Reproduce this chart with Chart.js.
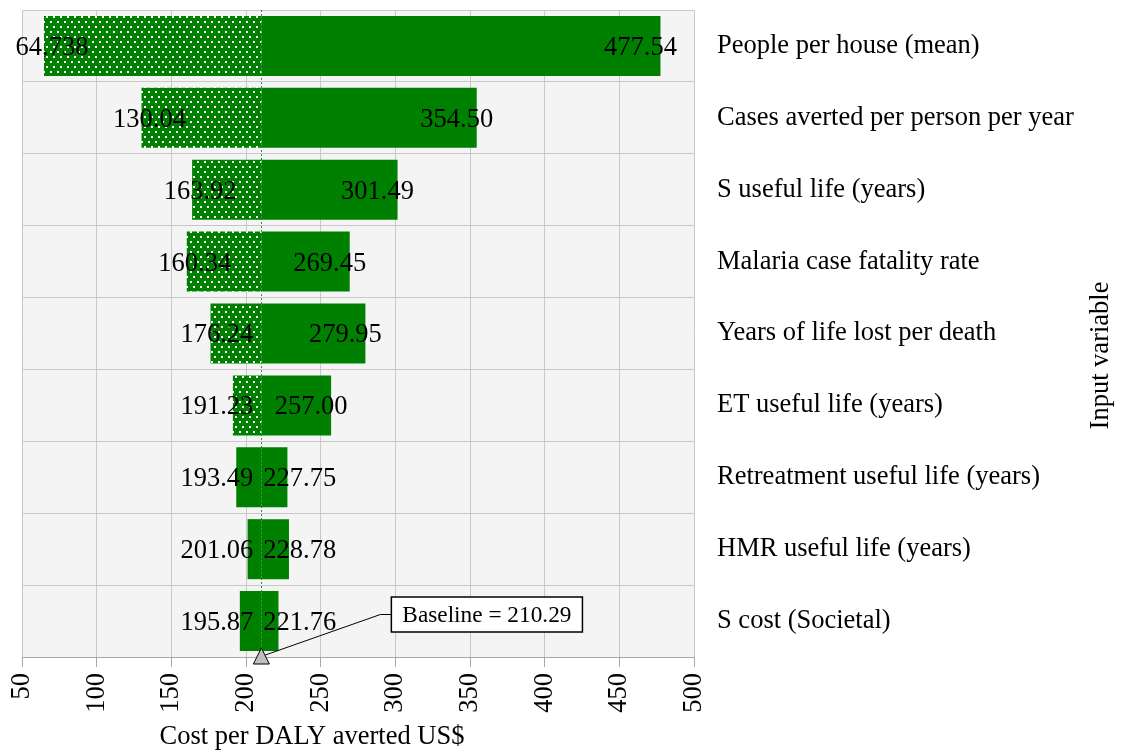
<!DOCTYPE html>
<html>
<head>
<meta charset="utf-8">
<script src="https://cdn.jsdelivr.net/npm/chart.js@4"></script>
<style>
html, body { margin: 0; padding: 0; background: #fff; }
#wrap { width: 1146px; height: 751px; }
</style>
</head>
<body>
<div id="wrap"><canvas id="chart"></canvas></div>
<script>
const categories = [
    'People per house (mean)',
    'Cases averted per person per year',
    'S useful life (years)',
    'Malaria case fatality rate',
    'Years of life lost per death',
    'ET useful life (years)',
    'Retreatment useful life (years)',
    'HMR useful life (years)',
    'S cost (Societal)'
];
const lowValues = [64.738, 130.04, 163.92, 160.34, 176.24, 191.23, 193.49, 201.06, 195.87];
const highValues = [477.54, 354.50, 301.49, 269.45, 279.95, 257.00, 227.75, 228.78, 221.76];
const lowDotted = [true, true, true, true, true, true, false, false, false];
const baseline = 210.29;
const xMin = 50;
const xMax = 500;
const xStep = 50;

const GREEN = '#008000';
const FONT = '"Liberation Serif", "Times New Roman", serif';
const SIZE = 26.5;

Chart.defaults.font.family = FONT;
Chart.defaults.color = '#000';

// white dot pattern on green for the low side of the bars
function makeDots() {
    const c = document.createElement('canvas');
    c.width = 14;
    c.height = 10;
    const g = c.getContext('2d');
    g.fillStyle = GREEN;
    g.fillRect(0, 0, 14, 10);
    g.fillStyle = '#ffffff';
    g.fillRect(1, 1, 2, 2);
    g.fillRect(8, 1, 2, 2);
    g.fillRect(4, 6, 2, 2);
    g.fillRect(11, 6, 2, 2);
    return c;
}
const ctx = document.getElementById('chart').getContext('2d');
const dots = ctx.createPattern(makeDots(), 'repeat');

const plotBackground = {
    id: 'plotBackground',
    beforeDraw(chart) {
        const { ctx, chartArea: a } = chart;
        ctx.save();
        ctx.fillStyle = '#f4f4f4';
        ctx.fillRect(a.left, a.top, a.right - a.left, a.bottom - a.top);
        ctx.restore();
    }
};

const baselineLine = {
    id: 'baselineLine',
    beforeDatasetsDraw(chart) {
        const { ctx, chartArea: a, scales: { x } } = chart;
        const bx = Math.round(x.getPixelForValue(baseline)) + 0.5;
        ctx.save();
        ctx.strokeStyle = '#2a9a2a';
        ctx.lineWidth = 1;
        ctx.setLineDash([2, 2]);
        ctx.beginPath();
        ctx.moveTo(bx, a.top);
        ctx.lineTo(bx, a.bottom);
        ctx.stroke();
        ctx.restore();
    }
};

const valueLabels = {
    id: 'valueLabels',
    afterDatasetsDraw(chart) {
        const { ctx, scales: { x, y } } = chart;
        const base = x.getPixelForValue(baseline);
        ctx.save();
        ctx.font = SIZE + 'px ' + FONT;
        ctx.fillStyle = '#000';
        ctx.textAlign = 'center';
        ctx.textBaseline = 'middle';
        categories.forEach((c, i) => {
            const yy = y.getPixelForValue(i) + 2;
            const lowText = lowValues[i].toPrecision(5);
            const highText = highValues[i].toPrecision(5);
            const lw = ctx.measureText(lowText).width;
            const hw = ctx.measureText(highText).width;
            const lowX = Math.min(x.getPixelForValue(lowValues[i]) + 8, base - lw / 2 - 8);
            const highX = Math.max(x.getPixelForValue(highValues[i]) - 20, base + hw / 2 + 2);
            ctx.fillText(lowText, lowX, yy);
            ctx.fillText(highText, highX, yy);
        });
        ctx.restore();
    }
};

const extras = {
    id: 'extras',
    afterDraw(chart) {
        const { ctx, chartArea: a, scales: { x } } = chart;
        const base = x.getPixelForValue(baseline);
        ctx.save();

        // callout line to the baseline box
        const bxLeft = base + 130;
        const boxTop = a.bottom - 60;
        const boxH = 35;
        ctx.strokeStyle = '#000';
        ctx.lineWidth = 1;
        ctx.beginPath();
        ctx.moveTo(base + 4, a.bottom - 2);
        ctx.lineTo(base + 119, boxTop + boxH / 2);
        ctx.lineTo(bxLeft, boxTop + boxH / 2);
        ctx.stroke();

        ctx.font = '23.3px ' + FONT;
        const txt = 'Baseline = ' + baseline.toFixed(2);
        const tw = ctx.measureText(txt).width;
        ctx.fillStyle = '#fff';
        ctx.fillRect(bxLeft, boxTop, tw + 22, boxH);
        ctx.lineWidth = 1.5;
        ctx.strokeRect(bxLeft, boxTop, tw + 22, boxH);
        ctx.fillStyle = '#000';
        ctx.textAlign = 'left';
        ctx.textBaseline = 'middle';
        ctx.fillText(txt, bxLeft + 11, boxTop + boxH / 2 + 1);

        // baseline marker
        ctx.beginPath();
        ctx.moveTo(base, a.bottom - 9);
        ctx.lineTo(base - 8, a.bottom + 7);
        ctx.lineTo(base + 8, a.bottom + 7);
        ctx.closePath();
        ctx.fillStyle = '#bfbfbf';
        ctx.fill();
        ctx.lineWidth = 1;
        ctx.strokeStyle = '#000';
        ctx.stroke();

        // axis titles
        ctx.font = SIZE + 'px ' + FONT;
        ctx.fillStyle = '#000';
        ctx.textAlign = 'center';
        ctx.textBaseline = 'alphabetic';
        ctx.fillText('Cost per DALY averted US$', a.left + 290, 744);

        ctx.translate(1108, (a.top + a.bottom) / 2 + 22);
        ctx.rotate(-Math.PI / 2);
        ctx.fillText('Input variable', 0, 0);
        ctx.restore();
    }
};

new Chart(ctx, {
    type: 'bar',
    data: {
        labels: categories,
        datasets: [
            {
                label: 'Low',
                data: lowValues.map(v => [v, baseline]),
                backgroundColor: c => lowDotted[c.dataIndex] ? dots : GREEN,
                borderWidth: 0
            },
            {
                label: 'High',
                data: highValues.map(v => [baseline, v]),
                backgroundColor: GREEN,
                borderWidth: 0
            }
        ]
    },
    options: {
        indexAxis: 'y',
        responsive: true,
        maintainAspectRatio: false,
        animation: false,
        devicePixelRatio: 1,
        grouped: false,
        barPercentage: 0.835,
        categoryPercentage: 1,
        layout: { padding: { left: 22, top: 10, right: 0, bottom: 0 } },
        plugins: {
            legend: { display: false },
            tooltip: { enabled: false }
        },
        scales: {
            x: {
                type: 'linear',
                min: xMin,
                max: xMax,
                ticks: {
                    stepSize: xStep,
                    maxRotation: 90,
                    minRotation: 90,
                    autoSkip: false,
                    padding: 6,
                    font: { size: SIZE },
                    color: '#000'
                },
                grid: {
                    color: '#c8c8c8',
                    tickColor: '#a8a8a8',
                    tickLength: 10,
                    lineWidth: 1
                },
                border: { color: '#a8a8a8', width: 1 },
                afterFit(scale) {
                    scale.height = 94;
                    scale.paddingLeft = 0;
                    scale.paddingRight = 0;
                }
            },
            y: {
                type: 'category',
                position: 'right',
                offset: true,
                ticks: {
                    padding: 23,
                    font: { size: SIZE },
                    color: '#000'
                },
                grid: {
                    offset: true,
                    color: '#c8c8c8',
                    drawTicks: false,
                    lineWidth: 1
                },
                border: { display: false },
                afterFit(scale) {
                    scale.width = 452;
                    scale.paddingTop = 0;
                    scale.paddingBottom = 0;
                }
            }
        }
    },
    plugins: [plotBackground, baselineLine, valueLabels, extras]
});
</script>
</body>
</html>
